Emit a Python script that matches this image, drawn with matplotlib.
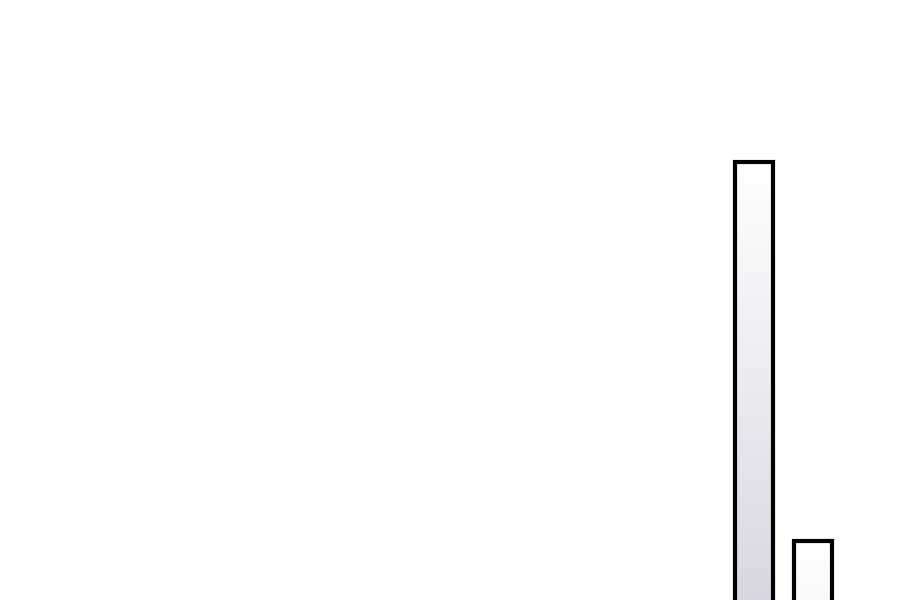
import matplotlib
matplotlib.use("Agg")
import matplotlib.pyplot as plt
import numpy as np
from matplotlib.colors import LinearSegmentedColormap
from matplotlib.patches import Rectangle

# data
categories = ["A", "B"]
values = [100, 17]

BAR_WIDTH = 0.63
FILL_CMAP = LinearSegmentedColormap.from_list("bar_fill", ["#ffffff", "#d6d6e2"])

fig = plt.figure(figsize=(9, 6), dpi=100)
ax = fig.add_axes([0, 0, 1, 1])

xs = np.arange(len(categories))
bars = ax.bar(xs, values, width=BAR_WIDTH, facecolor="none",
              edgecolor="black", linewidth=3, zorder=3)

# gradient darkens at the same rate from each bar's top downwards
vmax = max(values)
for b in bars:
    x0, w, h = b.get_x(), b.get_width(), b.get_height()
    grad = np.linspace(0, h / vmax, 256).reshape(-1, 1)
    im = ax.imshow(grad, cmap=FILL_CMAP, vmin=0, vmax=1, aspect="auto",
                   extent=(x0, x0 + w, 0, h), origin="upper", zorder=2)
    im.set_clip_path(Rectangle((x0, 0), w, h, transform=ax.transData))

ax.set_xlim(-12.78, 2.475)
ax.set_ylim(4.07, 135.5)
ax.axis("off")

fig.savefig("out.png", dpi=100, facecolor="white")
